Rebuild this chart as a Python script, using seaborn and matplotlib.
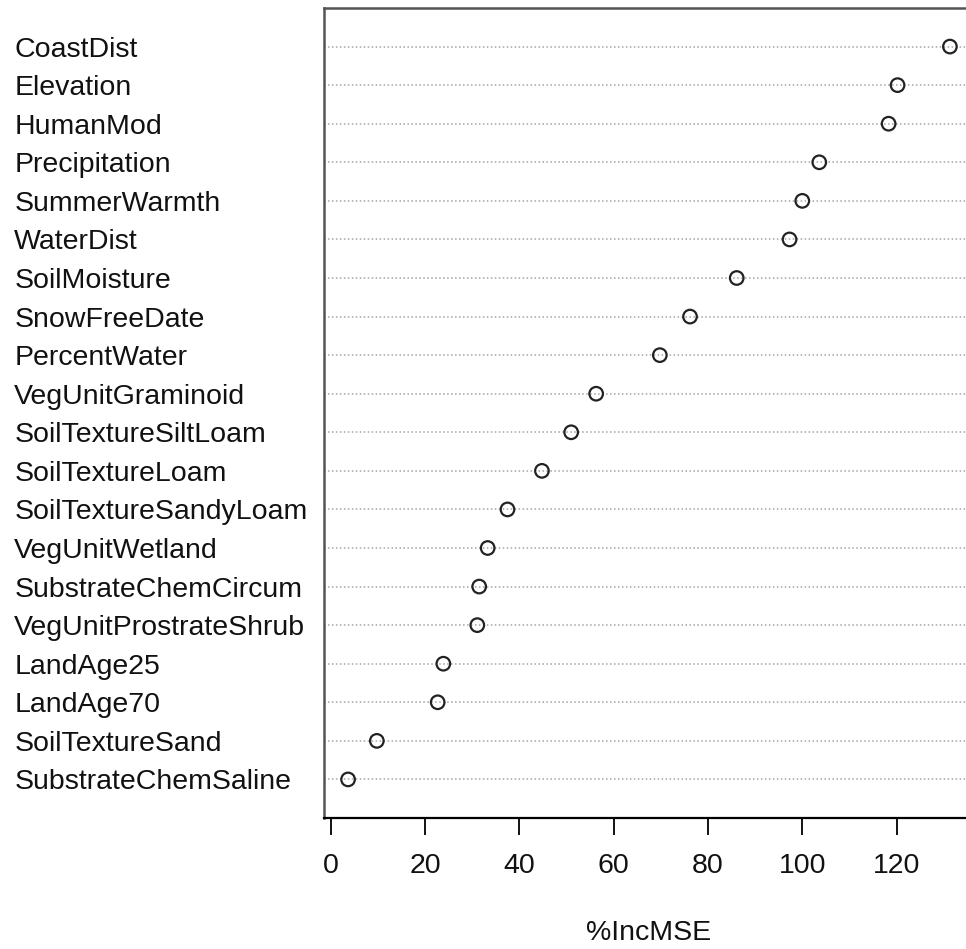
import matplotlib
matplotlib.use("Agg")
import matplotlib.pyplot as plt
import seaborn as sns
import pandas as pd

# Variable importance (%IncMSE), ordered from most to least important
variables = [
    "CoastDist", "Elevation", "HumanMod", "Precipitation", "SummerWarmth",
    "WaterDist", "SoilMoisture", "SnowFreeDate", "PercentWater",
    "VegUnitGraminoid", "SoilTextureSiltLoam", "SoilTextureLoam",
    "SoilTextureSandyLoam", "VegUnitWetland", "SubstrateChemCircum",
    "VegUnitProstrateShrub", "LandAge25", "LandAge70", "SoilTextureSand",
    "SubstrateChemSaline",
]
inc_mse = [
    131.3, 120.2, 118.3, 103.6, 100.0,
    97.3, 86.1, 76.2, 69.8,
    56.3, 51.0, 44.8,
    37.5, 33.3, 31.5,
    31.1, 23.9, 22.7, 9.8,
    3.7,
]
x_ticks = [0, 20, 40, 60, 80, 100, 120]

sns.set_style("white")
plt.rcParams["font.family"] = ["Liberation Sans", "DejaVu Sans"]

df = pd.DataFrame({"variable": variables, "imp": inc_mse})
df["pos"] = range(len(df))

fig = plt.figure(figsize=(9.66, 9.49), dpi=100)
ax = fig.add_axes([324 / 966, 1 - 818 / 949, 650 / 966, 810 / 949])

# dotted guide line for every variable
for p in df["pos"]:
    ax.axhline(p, color="#a4a4a4", lw=1.1, ls=(0, (1, 1.6)), zorder=1)

sns.scatterplot(data=df, x="imp", y="pos", ax=ax, marker="o", s=95,
                facecolor="none", edgecolor="#222222", linewidth=1.6,
                zorder=3, legend=False)

lo, hi = min(inc_mse), max(inc_mse)
span = hi - lo
ax.set_xlim(lo - 0.04 * span, hi + 0.04 * span)
ax.set_ylim(len(df), -1)

ax.set_yticks(df["pos"], labels=df["variable"])
ax.tick_params(axis="y", left=False, length=0, pad=223, labelsize=20.5,
               labelcolor="#111111")
for lab in ax.get_yticklabels():
    lab.set_horizontalalignment("left")

ax.set_xticks(x_ticks)
ax.tick_params(axis="x", bottom=True, direction="out", length=12, width=1.3,
               color="black", pad=13, labelsize=20.5, labelcolor="#111111")

for side in ["left", "top", "right"]:
    ax.spines[side].set_color("#555555")
    ax.spines[side].set_linewidth(1.8)
ax.spines["bottom"].set_color("black")
ax.spines["bottom"].set_linewidth(1.6)

ax.set_ylabel("")
ax.set_xlabel("%IncMSE", fontsize=20.5, color="#111111")
ax.xaxis.set_label_coords(0.5, -(933 - 818) / 810)
ax.xaxis.label.set_va("center")

fig.savefig("out.png", dpi=100, facecolor="white")
